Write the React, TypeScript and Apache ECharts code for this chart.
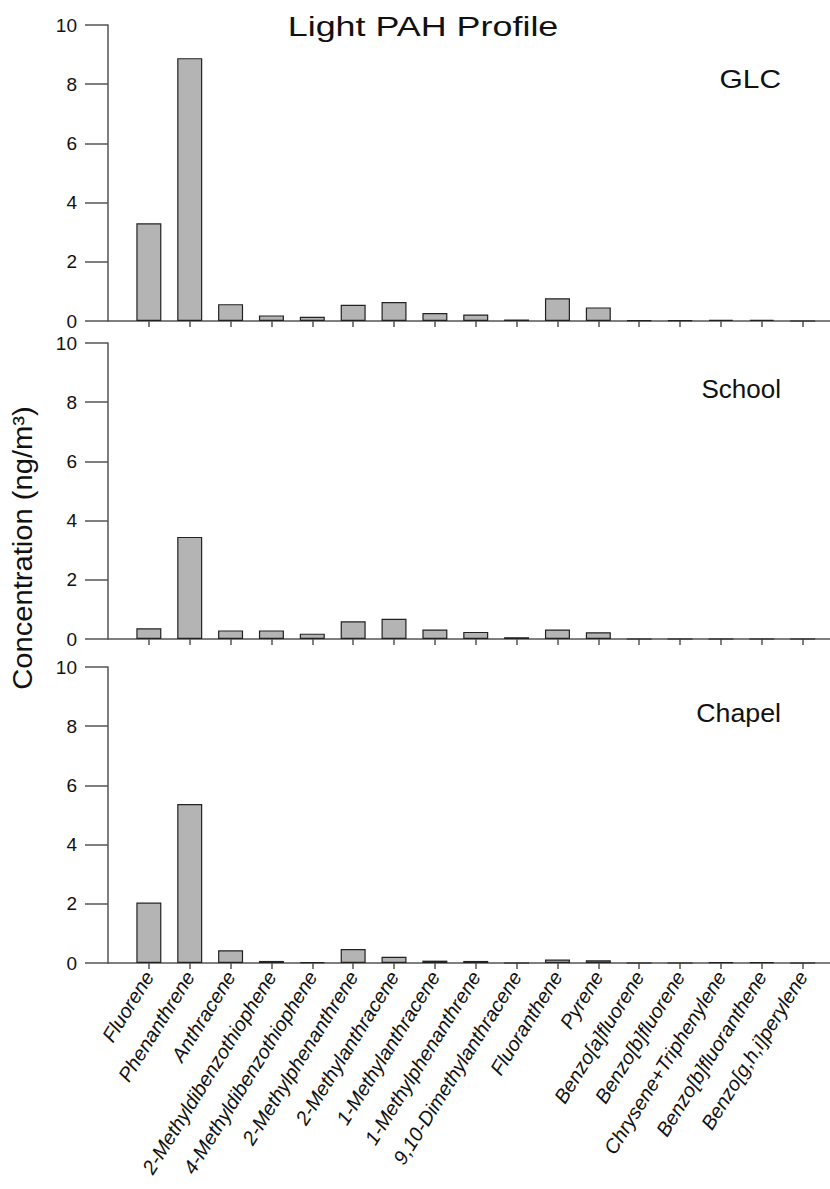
import React, { useEffect, useRef } from "react";
import * as echarts from "echarts";

const categories = [
  "Fluorene",
  "Phenanthrene",
  "Anthracene",
  "2-Methyldibenzothiophene",
  "4-Methyldibenzothiophene",
  "2-Methylphenanthrene",
  "2-Methylanthracene",
  "1-Methylanthracene",
  "1-Methylphenanthrene",
  "9,10-Dimethylanthracene",
  "Fluoranthene",
  "Pyrene",
  "Benzo[a]fluorene",
  "Benzo[b]fluorene",
  "Chrysene+Triphenylene",
  "Benzo[b]fluoranthene",
  "Benzo[g,h,i]perylene",
];

const glc = [3.3, 8.88, 0.57, 0.19, 0.14, 0.55, 0.64, 0.27, 0.22, 0.05, 0.77, 0.46, 0.02, 0.02, 0.04, 0.04, 0];
const school = [0.36, 3.45, 0.29, 0.29, 0.18, 0.6, 0.68, 0.32, 0.24, 0.06, 0.32, 0.23, 0, 0, 0, 0, 0];
const chapel = [2.04, 5.37, 0.43, 0.07, 0.03, 0.47, 0.21, 0.08, 0.07, 0, 0.12, 0.09, 0, 0, 0.02, 0.03, 0];

const panelNames = ["GLC", "School", "Chapel"];
const panelData = [glc, school, chapel];
const yTicks = [0, 2, 4, 6, 8, 10];

const title = "Light PAH Profile";
const yName = "Concentration (ng/m\u00b3)";

export default function App() {
  const ref = useRef<HTMLDivElement>(null);

  useEffect(() => {
    if (!ref.current) return;
    const chart = echarts.init(ref.current, undefined, { renderer: "svg" });

    const tops = [25, 343, 667];
    const panelH = 296;
    const left = 108;
    const axisColor = "#555";
    // category i sits at axis position i + 1 (axis starts one slot before the first category)
    const tickPos = categories.map((_, i) => i + 1);
    const font = "Liberation Sans, Arial, Helvetica, sans-serif";

    const grids = tops.map((t) => ({ left, top: t, height: panelH, right: 0 }));

    const xAxes = tops.map((_, gi) => ({
      type: "value",
      gridIndex: gi,
      min: 0,
      max: 17.67,
      splitLine: { show: false },
      axisLine: { show: true, onZero: false, lineStyle: { color: axisColor, width: 1.5 } },
      axisTick: {
        show: true,
        length: 6,
        customValues: tickPos,
        lineStyle: { color: axisColor, width: 1.5 },
      },
      axisLabel: {
        show: gi === 2,
        customValues: tickPos,
        formatter: (v: number) => categories[Math.round(v) - 1] ?? "",
        rotate: 58,
        fontStyle: "italic",
        fontSize: 20,
        fontFamily: font,
        color: "#111",
        margin: 10,
      },
    }));

    const yAxes = tops.map((_, gi) => ({
      type: "value",
      gridIndex: gi,
      min: 0,
      max: 10,
      interval: 2,
      splitLine: { show: false },
      axisLine: { show: true, onZero: false, lineStyle: { color: axisColor, width: 1.5 } },
      axisTick: { show: true, length: 23, lineStyle: { color: axisColor, width: 1.5 } },
      axisLabel: {
        fontSize: 19,
        fontFamily: font,
        color: "#111",
        margin: 31,
      },
    }));

    const series = panelData.map((arr, gi) => ({
      type: "bar",
      xAxisIndex: gi,
      yAxisIndex: gi,
      barWidth: 25,
      data: arr.map((v, i) => [tickPos[i], v]),
      itemStyle: { color: "#b4b4b4", borderColor: "#222", borderWidth: 1.2 },
      silent: true,
    }));

    const labelY = [79, 389, 713];
    const labelScale = [1.15, 1.0, 1.03];
    const graphic: any[] = [
      {
        type: "text",
        x: 423,
        y: 27,
        scaleX: 1.33,
        style: {
          text: title,
          fontSize: 27,
          fontFamily: font,
          fill: "#111",
          textAlign: "center",
          textVerticalAlign: "middle",
        },
      },
      {
        type: "text",
        x: 23,
        y: 548,
        rotation: Math.PI / 2,
        scaleX: 1.08,
        style: {
          text: yName,
          fontSize: 27,
          fontFamily: font,
          fill: "#111",
          textAlign: "center",
          textVerticalAlign: "middle",
        },
      },
      ...panelNames.map((n, i) => ({
        type: "text",
        x: 781,
        y: labelY[i],
        scaleX: labelScale[i],
        style: {
          text: n,
          fontSize: 26,
          fontFamily: font,
          fill: "#111",
          textAlign: "right",
          textVerticalAlign: "middle",
        },
      })),
    ];

    chart.setOption({
      animation: false,
      backgroundColor: "#fff",
      grid: grids,
      xAxis: xAxes,
      yAxis: yAxes,
      series,
      graphic,
    });

    return () => chart.dispose();
  }, []);

  return (
    <div
      ref={ref}
      style={{ position: "fixed", left: 0, top: 0, width: 830, height: 1189, background: "#fff" }}
    />
  );
}
